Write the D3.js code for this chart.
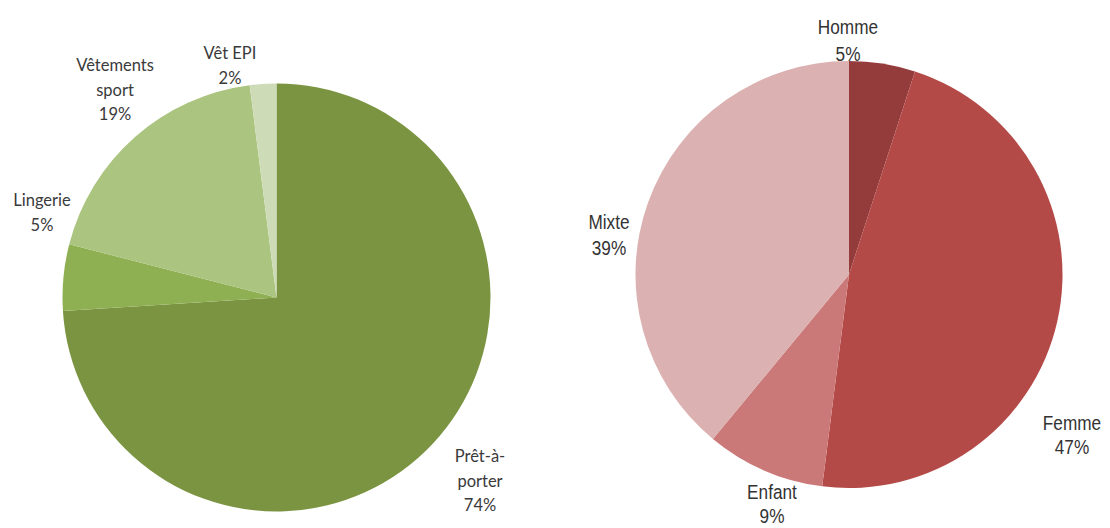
<!DOCTYPE html>
<html>
<head>
<meta charset="utf-8">
<script src="https://cdn.jsdelivr.net/npm/d3@7"></script>
<style>
  html, body { margin: 0; padding: 0; background: #fff; }
  svg { display: block; }
</style>
</head>
<body>
<svg id="chart" width="1110" height="528"></svg>
<script>
// ---- Data ----
const leftCategories = ["Prêt-à-porter", "Lingerie", "Vêtements sport", "Vêt EPI"];
const leftValues = [74, 5, 19, 2];
const leftLabelLines = [["Prêt-à-", "porter", "74%"], ["Lingerie", "5%"], ["Vêtements", "sport", "19%"], ["Vêt EPI", "2%"]];
const leftColors = ["#7b9441", "#8fb052", "#abc47f", "#cddcb7"];

const rightCategories = ["Homme", "Femme", "Enfant", "Mixte"];
const rightValues = [5, 47, 9, 39];
const rightLabelLines = [["Homme", "5%"], ["Femme", "47%"], ["Enfant", "9%"], ["Mixte", "39%"]];
const rightColors = ["#943b3b", "#b44a47", "#cb7878", "#dcb1b1"];

// ---- Layout ----
const leftPie = { cx: 276.5, cy: 297.5, r: 214 };
const rightPie = { cx: 849, cy: 274.5, r: 213.5 };
// label anchors (center x, first baseline, line spacing)
const leftLabelPos = [[480, 462, 24.5], [42, 206, 24.5], [115, 71, 24.5], [230, 59, 24.5]];
const rightLabelPos = [[848, 34, 27], [1072, 430, 24], [772, 499, 24], [609, 229, 26]];

const svg = d3.select("#chart");

function drawPie(cfg, cats, vals, colors, lines, pos, font, size, fill, sx) {
  const pie = d3.pie().sort(null).value(d => d.v).startAngle(0).endAngle(2 * Math.PI);
  const data = cats.map((c, i) => ({ c, v: vals[i], i }));
  const arc = d3.arc().innerRadius(0).outerRadius(cfg.r);
  const g = svg.append("g").attr("transform", `translate(${cfg.cx},${cfg.cy})`);
  g.selectAll("path").data(pie(data)).join("path")
    .attr("d", arc)
    .attr("fill", d => colors[d.data.i]);
  const lg = svg.append("g");
  data.forEach((d, i) => {
    const [x, y, lh] = pos[i];
    const t = lg.append("text")
      .attr("text-anchor", "middle")
      .attr("font-family", font)
      .attr("font-size", size)
      .attr("fill", fill)
      .attr("transform", `translate(${x},0) scale(${sx},1)`);
    lines[i].forEach((ln, k) => {
      t.append("tspan").attr("x", 0).attr("y", y + k * lh).text(ln);
    });
  });
}

drawPie(leftPie, leftCategories, leftValues, leftColors, leftLabelLines, leftLabelPos,
  "Lato, 'Noto Sans', sans-serif", 16.5, "#3a3a3a", 1);
drawPie(rightPie, rightCategories, rightValues, rightColors, rightLabelLines, rightLabelPos,
  "'Liberation Sans', Arial, sans-serif", 20.5, "#333", 0.84);
</script>
</body>
</html>
